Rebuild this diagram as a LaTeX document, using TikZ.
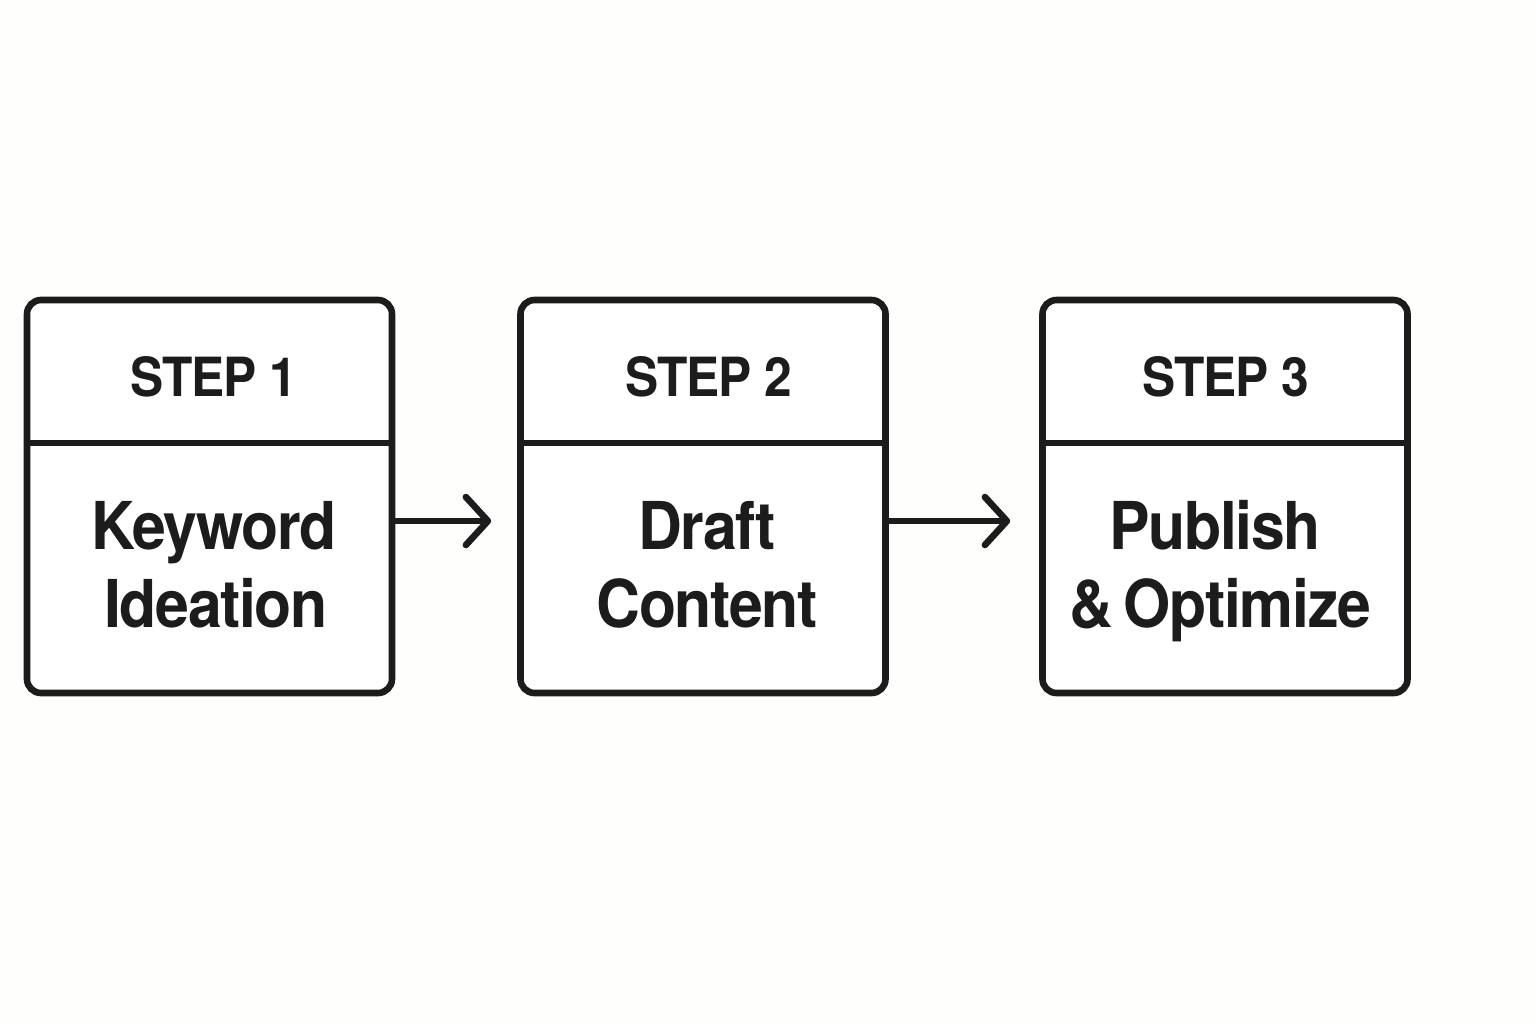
\documentclass[tikz,border=0pt]{standalone}
\usepackage{fontspec}
\setmainfont{TeX Gyre Heros}[FakeStretch=0.92,LetterSpace=-2]
\usetikzlibrary{arrows.meta}
\definecolor{ink}{HTML}{1C1C1C}
\definecolor{paper}{HTML}{FEFEFC}
\begin{document}
\begin{tikzpicture}[x=0.5pt,y=-0.5pt,
  box/.style={draw=ink,line width=3.3pt,rounded corners=7pt,minimum width=182.5pt,minimum height=196.5pt,inner sep=0pt,fill=white},
  head/.style={anchor=base,font=\bfseries\fontsize{27}{30}\selectfont,text=ink,inner sep=0pt},
  body/.style={anchor=base,font=\bfseries\fontsize{33}{36}\selectfont,text=ink,inner sep=0pt},
  flow/.style={draw=ink,line width=3.3pt,line cap=round,-{Straight Barb[length=11pt,width=24pt,round]}}]
\fill[paper] (0,0) rectangle (1536,1024);
\useasboundingbox (0,0) rectangle (1536,1024);
% boxes
\node[box] (b1) at (209.5,496.5) {};
\node[box] (b2) at (703,496.5) {};
\node[box] (b3) at (1225,496.5) {};
\foreach \b in {b1,b2,b3}{
  \draw[ink,line width=3.3pt] (\b.west |- 0,443) -- (\b.east |- 0,443);
}
% texts
\node[head] (h1) at (214,396) {STEP 1};
\node[head] (h2) at (709,396) {STEP 2};
\node[head] (h3) at (1226,396) {STEP 3};
\node[body] (k1) at (214,549) {Keyword};
\node[body] (k2) at (216,627) {Ideation};
\node[body] (d1) at (707,549) {Draft};
\node[body] (d2) at (707,627) {Content};
\node[body] (p1) at (1215,549) {Publish};
\node[body] (p2) at (1220,627) {\&\,Optimize};
% arrows
\coordinate (ay) at (0,521);
\draw[flow] (b1.east |- ay) -- ([xshift=-13pt]b2.west |- ay);
\draw[flow] (b2.east |- ay) -- ([xshift=-14.5pt]b3.west |- ay);
\end{tikzpicture}
\end{document}
